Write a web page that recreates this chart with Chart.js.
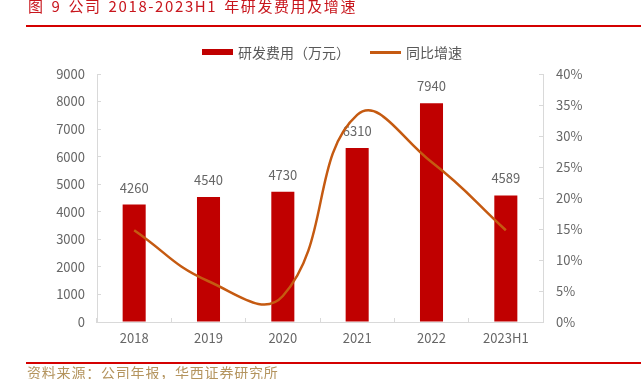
<!DOCTYPE html>
<html>
<head>
<meta charset="utf-8">
<script src="https://cdn.jsdelivr.net/npm/chart.js@4.4.0/dist/chart.umd.min.js"></script>
<style>
  html, body { margin: 0; padding: 0; background: #fff; }
  #wrap { position: relative; width: 641px; height: 379px; overflow: hidden; font-family: "Noto Sans CJK SC", sans-serif; }
  #chart { position: absolute; left: 0; top: 0; }
  .title { position: absolute; left: 28px; top: -4px; font-size: 15px; line-height: 20px; color: #c8161d; letter-spacing: 1.6px; word-spacing: 2px; white-space: nowrap; }
  .rule { position: absolute; left: 26px; right: 0; height: 2px; background: #d40000; }
  .source { position: absolute; left: 27px; top: 362px; font-size: 14px; line-height: 20px; color: #b4945e; letter-spacing: 0.8px; white-space: nowrap; }
  #legend { position: absolute; left: 202px; top: 42px; display: flex; align-items: center; font-size: 14px; line-height: 20px; color: #595959; white-space: nowrap; }
  #legend .item { display: flex; align-items: center; margin-right: 20px; }
  #legend .swatch { width: 31px; margin-right: 5px; }
</style>
</head>
<body>
<div id="wrap">
  <canvas id="chart" width="641" height="379"></canvas>
  <div class="title">图 9 公司 2018-2023H1 年研发费用及增速</div>
  <div class="rule" style="top:25px"></div>
  <div id="legend"></div>
  <div class="rule" style="top:362px"></div>
  <div class="source">资料来源：公司年报，华西证券研究所</div>
</div>
<script>
// 数据
const years = ['2018', '2019', '2020', '2021', '2022', '2023H1'];
const rdSpend = [4260, 4540, 4730, 6310, 7940, 4589];      // 研发费用（万元）
const yoyGrowth = [14.8, 6.57, 4.19, 33.4, 25.8, 14.8];    // 同比增速 %
const leftTicks = [0, 1000, 2000, 3000, 4000, 5000, 6000, 7000, 8000, 9000];
const rightTicks = [0, 5, 10, 15, 20, 25, 30, 35, 40];

const tickFont = { family: '"Noto Sans CJK SC", sans-serif', size: 13 };
const axisGray = '#d9d9d9';
const textGray = '#666666';

// 柱子上方的数值
const barLabels = {
  id: 'barLabels',
  afterDatasetDraw(chart, args) {
    if (args.index !== 0) return;
    const ctx = chart.ctx;
    ctx.save();
    ctx.font = '13px "Noto Sans CJK SC", sans-serif';
    ctx.fillStyle = textGray;
    ctx.textAlign = 'center';
    ctx.textBaseline = 'middle';
    args.meta.data.forEach((bar, i) => {
      ctx.fillText(rdSpend[i], bar.x, bar.y - 17);
    });
    ctx.restore();
  }
};

const ctx = document.getElementById('chart').getContext('2d');
const chart = new Chart(ctx, {
  type: 'bar',
  data: {
    labels: years,
    datasets: [{
      label: '研发费用（万元）',
      data: rdSpend,
      backgroundColor: '#c00000',
      yAxisID: 'y',
      order: 1,
      categoryPercentage: 1,
      barPercentage: 0.31
    }, {
      type: 'line',
      label: '同比增速',
      data: yoyGrowth,
      borderColor: '#c55a11',
      backgroundColor: '#c55a11',
      borderWidth: 2.5,
      pointRadius: 0,
      tension: 0.45,
      yAxisID: 'y1',
      order: 0
    }]
  },
  options: {
    responsive: false,
    animation: false,
    devicePixelRatio: 1,
    layout: { padding: { left: 0, right: 0, top: 74, bottom: 0 } },
    plugins: {
      legend: { display: false },
      tooltip: { enabled: false }
    },
    scales: {
      x: {
        grid: { display: true, drawOnChartArea: false, drawTicks: true, tickLength: -4, color: axisGray },
        border: { color: axisGray },
        ticks: { color: textGray, font: tickFont, padding: 12 },
        afterFit: s => { s.height = 57; }
      },
      y: {
        position: 'left',
        min: 0,
        max: 9000,
        afterBuildTicks: s => { s.ticks = leftTicks.map(v => ({ value: v })); },
        grid: { display: true, drawOnChartArea: false, drawTicks: true, tickLength: -4, color: axisGray },
        border: { color: axisGray },
        ticks: { color: textGray, font: tickFont, padding: 16, callback: v => String(v) },
        afterFit: s => { s.width = 97; }
      },
      y1: {
        position: 'right',
        min: 0,
        max: 40,
        afterBuildTicks: s => { s.ticks = rightTicks.map(v => ({ value: v })); },
        grid: { display: true, drawOnChartArea: false, drawTicks: true, tickLength: -4, color: axisGray },
        border: { color: axisGray },
        ticks: { color: textGray, font: tickFont, padding: 17, callback: v => v + '%' },
        afterFit: s => { s.width = 98; }
      }
    }
  },
  plugins: [barLabels]
});

// 图例
const legend = document.getElementById('legend');
chart.data.datasets.forEach(ds => {
  const item = document.createElement('div');
  item.className = 'item';
  const sw = document.createElement('div');
  sw.className = 'swatch';
  sw.style.height = ds.type === 'line' ? '3px' : '6px';
  sw.style.background = ds.type === 'line' ? ds.borderColor : ds.backgroundColor;
  const txt = document.createElement('span');
  txt.textContent = ds.label;
  item.appendChild(sw);
  item.appendChild(txt);
  legend.appendChild(item);
});
</script>
</body>
</html>
